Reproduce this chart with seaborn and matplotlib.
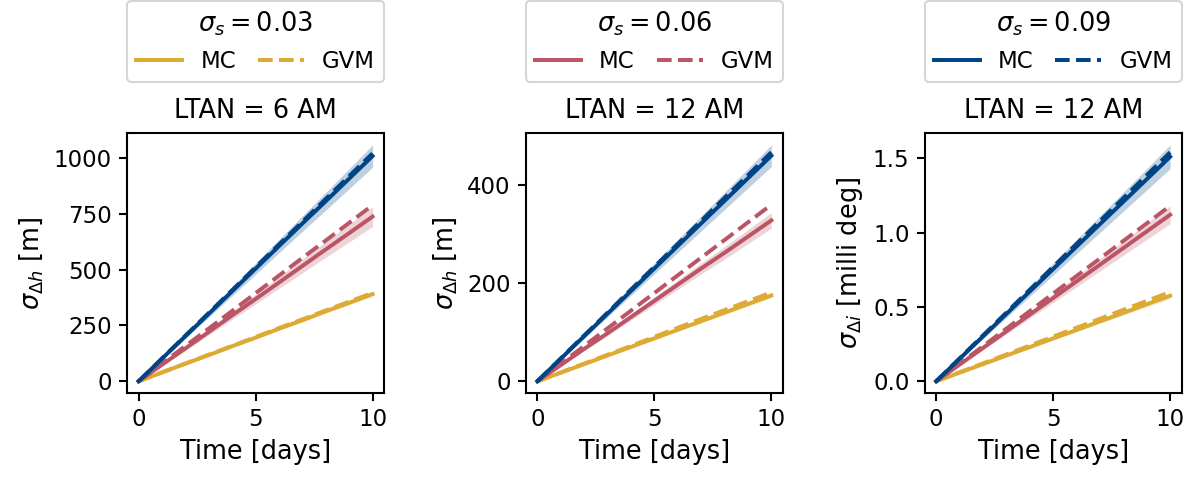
import numpy as np
import pandas as pd
import matplotlib
matplotlib.use("Agg")
import matplotlib.pyplot as plt
from matplotlib.lines import Line2D
import seaborn as sns

# Time axis (days)
days = [0, 1, 2, 3, 4, 5, 6, 7, 8, 9, 10]

sigma_s = [0.03, 0.06, 0.09]
colors = ["#DDAA33", "#BB5566", "#004488"]
titles = ["LTAN = 6 AM", "LTAN = 12 AM", "LTAN = 12 AM"]
ylabels = [r"$\sigma_{\Delta h}$ [m]", r"$\sigma_{\Delta h}$ [m]", r"$\sigma_{\Delta i}$ [milli deg]"]

# Panel 1: altitude spread, LTAN 6 AM
p1_mc_003 = [0, 39, 79, 117, 157, 195, 235, 273, 313, 351, 390]
p1_gvm_003 = [0, 40, 79, 119, 158, 198, 238, 277, 317, 356, 396]
p1_band_003 = [0, 1, 2, 3, 4, 5, 6, 7, 8, 9, 10]
p1_mc_006 = [0, 74, 147, 221, 295, 368, 442, 516, 590, 663, 737]
p1_gvm_006 = [0, 79, 158, 236, 315, 394, 473, 552, 630, 709, 788]
p1_band_006 = [0, 4, 9, 13, 18, 22, 26, 31, 35, 40, 44]
p1_mc_009 = [0, 101, 202, 302, 403, 504, 605, 706, 806, 907, 1008]
p1_gvm_009 = [0, 102, 204, 306, 408, 510, 612, 714, 816, 918, 1020]
p1_band_009 = [0, 5, 10, 15, 20, 25, 30, 35, 40, 45, 50]

# Panel 2: altitude spread, LTAN 12 AM
p2_mc_003 = [0, 17.5, 35, 52.5, 70, 87.5, 105, 122.5, 140, 157.5, 175]
p2_gvm_003 = [0, 18, 36, 54, 72, 90.5, 109, 127, 145, 163, 181]
p2_band_003 = [0, 0.5, 1, 1.5, 2, 2.5, 3, 3.5, 4, 4.5, 5]
p2_mc_006 = [0, 33, 66, 98, 131, 164, 197, 230, 262, 295, 328]
p2_gvm_006 = [0, 36, 72, 108, 144, 180, 216, 252, 288, 324, 360]
p2_band_006 = [0, 1.6, 3.2, 4.8, 6.4, 8, 9.6, 11.2, 12.8, 14.4, 16]
p2_mc_009 = [0, 46, 92, 138, 184, 230, 276, 322, 368, 414, 460]
p2_gvm_009 = [0, 46.7, 93.4, 140, 187, 233.5, 280, 327, 374, 420, 467]
p2_band_009 = [0, 2.2, 4.4, 6.6, 8.8, 11, 13.2, 15.4, 17.6, 19.8, 22]

# Panel 3: inclination spread, LTAN 12 AM
p3_mc_003 = [0, 0.058, 0.115, 0.173, 0.23, 0.288, 0.345, 0.403, 0.46, 0.518, 0.575]
p3_gvm_003 = [0, 0.06, 0.12, 0.18, 0.24, 0.30, 0.36, 0.42, 0.48, 0.54, 0.60]
p3_band_003 = [0, 0.002, 0.004, 0.006, 0.008, 0.01, 0.012, 0.014, 0.016, 0.018, 0.02]
p3_mc_006 = [0, 0.112, 0.224, 0.336, 0.448, 0.56, 0.672, 0.784, 0.896, 1.008, 1.12]
p3_gvm_006 = [0, 0.118, 0.236, 0.354, 0.472, 0.59, 0.708, 0.826, 0.944, 1.062, 1.18]
p3_band_006 = [0, 0.006, 0.012, 0.018, 0.024, 0.03, 0.036, 0.042, 0.048, 0.054, 0.06]
p3_mc_009 = [0, 0.151, 0.302, 0.453, 0.604, 0.755, 0.906, 1.057, 1.208, 1.359, 1.51]
p3_gvm_009 = [0, 0.154, 0.308, 0.462, 0.616, 0.77, 0.924, 1.078, 1.232, 1.386, 1.54]
p3_band_009 = [0, 0.008, 0.016, 0.024, 0.032, 0.04, 0.048, 0.056, 0.064, 0.072, 0.08]

panels = [
    [(p1_mc_003, p1_gvm_003, p1_band_003),
     (p1_mc_006, p1_gvm_006, p1_band_006),
     (p1_mc_009, p1_gvm_009, p1_band_009)],
    [(p2_mc_003, p2_gvm_003, p2_band_003),
     (p2_mc_006, p2_gvm_006, p2_band_006),
     (p2_mc_009, p2_gvm_009, p2_band_009)],
    [(p3_mc_003, p3_gvm_003, p3_band_003),
     (p3_mc_006, p3_gvm_006, p3_band_006),
     (p3_mc_009, p3_gvm_009, p3_band_009)],
]

plt.rcParams["font.family"] = ["DejaVu Sans"]
plt.rcParams["font.size"] = 11
plt.rcParams["axes.labelsize"] = 12.3
plt.rcParams["axes.titlesize"] = 12.3
plt.rcParams["axes.linewidth"] = 1.0
plt.rcParams["xtick.major.width"] = 1.0
plt.rcParams["ytick.major.width"] = 1.0
plt.rcParams["xtick.major.size"] = 3.7
plt.rcParams["ytick.major.size"] = 3.7

LW = 1.9

fig, axes = plt.subplots(1, 3, figsize=(8.007, 3.18), dpi=150)
fig.subplots_adjust(left=0.1057, right=0.984, top=0.721, bottom=0.176, wspace=0.55)

for k, (ax, series) in enumerate(zip(axes, panels)):
    for (mc, gvm, band), col in zip(series, colors):
        df = pd.DataFrame({"t": days, "mc": mc, "gvm": gvm, "band": band})
        ax.fill_between(df["t"], df["mc"] - df["band"], df["mc"] + df["band"],
                        color=col, alpha=0.25, linewidth=0)
        sns.lineplot(data=df, x="t", y="mc", color=col, lw=LW, ax=ax)
        sns.lineplot(data=df, x="t", y="gvm", color=col, lw=LW, ls="--", ax=ax)
    ax.set_xlabel("Time [days]")
    ax.set_ylabel(ylabels[k])
    ax.set_xticks([0, 5, 10])
    ax.set_title(titles[k], pad=7)
    handles = [Line2D([], [], color=colors[k], lw=LW, ls="-"),
               Line2D([], [], color=colors[k], lw=LW, ls="--")]
    ax.legend(handles, ["MC", "GVM"], title=rf"$\sigma_s = {sigma_s[k]:.2f}$",
              ncol=2, loc="lower left", bbox_to_anchor=(0, 1.197, 1, 0.1),
              mode="expand", borderaxespad=0, title_fontsize=12.3, fontsize=11)

axes[2].set_yticks([0.0, 0.5, 1.0, 1.5])

fig.savefig("out.png", dpi=150)
